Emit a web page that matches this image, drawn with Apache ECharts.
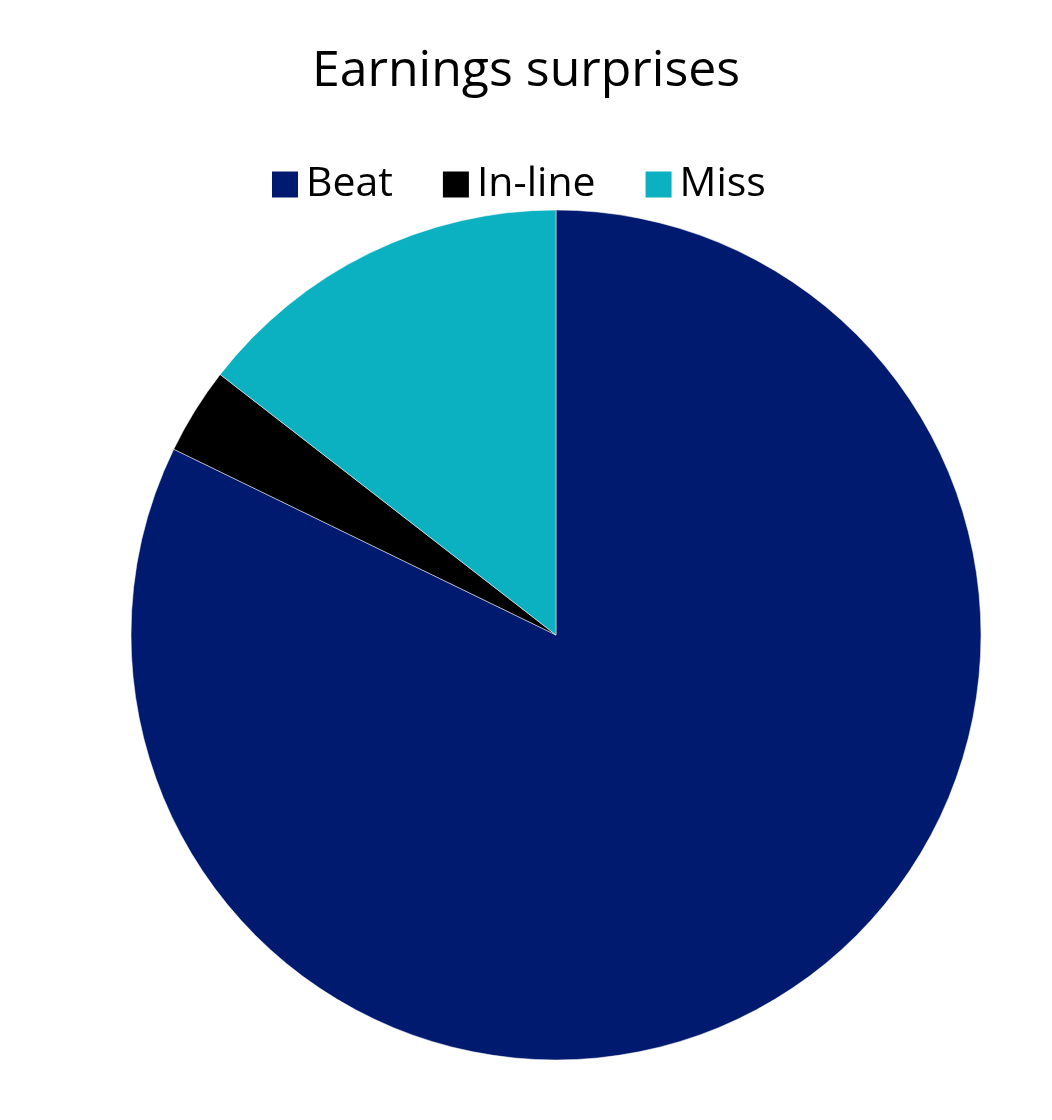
<!DOCTYPE html>
<html>
<head>
<meta charset="utf-8">
<script src="https://cdn.jsdelivr.net/npm/echarts@6/dist/echarts.min.js"></script>
<style>
  html, body { margin: 0; padding: 0; background: #fff; }
  #chart { width: 1052px; height: 1120px; }
</style>
</head>
<body>
<div id="chart"></div>
<script>
  const categories = ["Beat", "In-line", "Miss"];
  const shares = [82.2, 3.3, 14.5];
  const colors = ["#001A70", "#000000", "#0BB1C1"];

  const chart = echarts.init(document.getElementById("chart"));
  chart.setOption({
    animation: false,
    color: colors,
    title: {
      text: "Earnings surprises",
      left: "center",
      top: 42,
      textStyle: {
        fontFamily: "Open Sans",
        fontSize: 50,
        fontWeight: "normal",
        color: "#000"
      }
    },
    legend: {
      left: 265,
      top: 159,
      itemWidth: 28,
      itemHeight: 28,
      itemGap: 48,
      icon: "rect",
      textStyle: {
        fontFamily: "Open Sans",
        fontSize: 41,
        color: "#000",
        padding: [0, 0, 0, 2]
      },
      data: categories
    },
    series: [
      {
        type: "pie",
        center: [556, 635],
        radius: 425,
        startAngle: 90,
        clockwise: true,
        label: { show: false },
        labelLine: { show: false },
        itemStyle: { borderColor: "#fff", borderWidth: 0.5 },
        emphasis: { disabled: true },
        data: categories.map((n, i) => ({ name: n, value: shares[i] }))
      }
    ]
  });
</script>
</body>
</html>
